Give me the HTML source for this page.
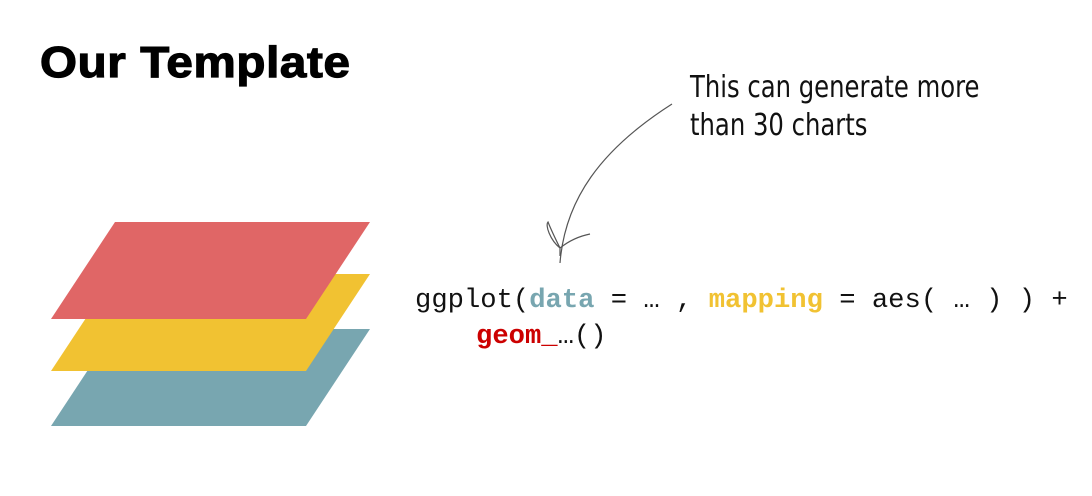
<!DOCTYPE html>
<html><head><meta charset="utf-8"><style>
body{margin:0;width:1092px;height:496px;background:#fff;position:relative;overflow:hidden}
.t{position:absolute;left:40px;top:38px;font:bold 44px "Liberation Sans",sans-serif;color:#000;letter-spacing:0.6px;-webkit-text-stroke:1.2px #000;transform-origin:0 0;transform:scaleX(1.08);white-space:nowrap}
.code{position:absolute;font:27.2px "Liberation Mono",monospace;color:#111;white-space:pre}
.h{position:absolute;left:690px;font:30px "DejaVu Sans",sans-serif;color:#111;transform-origin:0 0;transform:scaleX(0.81);white-space:nowrap;letter-spacing:0px}
</style></head><body>
<div class="t">Our Template</div>
<svg width="1092" height="496" style="position:absolute;left:0;top:0">
<polygon points="115,329 370,329 306,426 51,426" fill="#78a6b0"/>
<polygon points="115,274 370,274 306,371 51,371" fill="#f1c232"/>
<polygon points="115,222 370,222 306,319 51,319" fill="#e06666"/>
<path d="M672,104 C600,150 565,200 560,263" stroke="#555" stroke-width="1.2" fill="none"/>
<path d="M560,248 C550,240 545,225 548,222 C552,232 556,240 560,248 L560,256 M560,248 C570,240 580,236 590,234" stroke="#555" stroke-width="1.2" fill="none"/>
</svg>
<div class="h" style="top:70px">This can generate more</div>
<div class="h" style="top:108px">than 30 charts</div>
<div class="code" style="left:415px;top:285px">ggplot(<b style="color:#78a6b0">data</b> = … , <b style="color:#f1c232">mapping</b> = aes( … ) ) +</div>
<div class="code" style="left:476px;top:321px"><b style="color:#cc0000">geom_</b>…()</div>
</body></html>
